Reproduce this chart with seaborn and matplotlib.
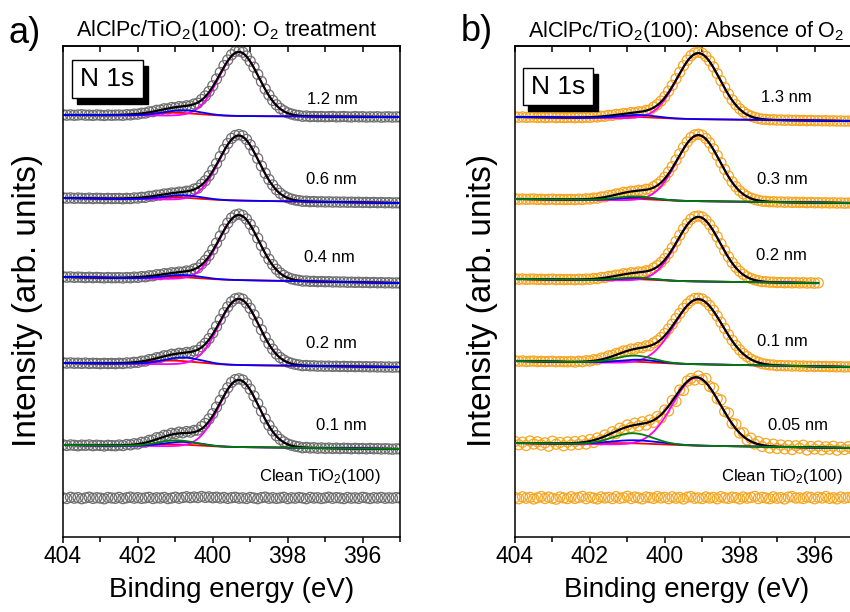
import numpy as np
import matplotlib
matplotlib.use("Agg")
import matplotlib.pyplot as plt
import seaborn as sns
from matplotlib.patches import Rectangle

# ---------------- data (binding energy grid starts at 404.0 eV, step 0.1 eV) ----------------
energy_start = 404.0
energy_step = 0.1

# Panel a) AlClPc/TiO2(100): O2 treatment  (measured N 1s intensities, offset, arb. units)
o2_1p2nm = [42.22, 42.18, 42.21, 42.17, 42.20, 42.23, 42.18, 42.19, 42.16, 42.21, 42.18, 42.15, 42.20, 42.17, 42.19,
            42.20, 42.17, 42.23, 42.21, 42.29, 42.28, 42.38, 42.39, 42.52, 42.53,
            42.67, 42.69, 42.82, 42.80, 42.95, 42.93, 43.04, 43.00, 43.12, 43.11,
            43.30, 43.38, 43.75, 44.10, 44.55, 45.12, 45.80, 46.45, 47.15, 47.70,
            48.22, 48.55, 48.60, 48.48, 48.10, 47.58, 46.98, 46.26, 45.55, 44.80,
            44.20, 43.66, 43.22, 42.86, 42.62, 42.42, 42.30, 42.20, 42.15, 42.07,
            42.10, 42.04,
            42.06, 42.03, 42.05, 42.02, 42.04, 42.06, 42.01, 42.03, 42.05, 42.02, 42.00, 42.04,
            42.01, 42.03, 41.99, 42.02, 42.00, 42.03, 41.98, 42.01, 42.02, 41.99, 42.01, 42.00]
o2_0p6nm = [33.92, 33.88, 33.91, 33.86, 33.90, 33.87, 33.85, 33.89, 33.84, 33.88, 33.86, 33.83, 33.87, 33.84, 33.85,
            33.86, 33.82, 33.87, 33.84, 33.91, 33.89, 33.97, 33.96, 34.07, 34.08,
            34.18, 34.20, 34.30, 34.31, 34.40, 34.39, 34.49, 34.47, 34.58, 34.59,
            34.79, 34.88, 35.27, 35.62, 36.12, 36.70, 37.35, 38.05, 38.75, 39.35,
            39.86, 40.15, 40.24, 40.12, 39.76, 39.22, 38.60, 37.85, 37.10, 36.38,
            35.75, 35.20, 34.74, 34.38, 34.12, 33.93, 33.79, 33.70, 33.64, 33.57,
            33.58, 33.53,
            33.55, 33.51, 33.53, 33.50, 33.52, 33.49, 33.51, 33.48, 33.50, 33.47, 33.49, 33.46,
            33.48, 33.45, 33.47, 33.44, 33.46, 33.43, 33.45, 33.42, 33.44, 33.41, 33.42, 33.40]
o2_0p4nm = [26.02, 25.98, 26.01, 25.96, 25.99, 25.97, 25.94, 25.98, 25.93, 25.96, 25.94, 25.91, 25.95, 25.92, 25.93,
            25.94, 25.90, 25.95, 25.92, 25.99, 25.96, 26.04, 26.02, 26.12, 26.12,
            26.23, 26.23, 26.33, 26.32, 26.43, 26.40, 26.50, 26.48, 26.60, 26.59,
            26.80, 26.90, 27.29, 27.66, 28.15, 28.74, 29.40, 30.09, 30.79, 31.39,
            31.91, 32.19, 32.29, 32.16, 31.80, 31.27, 30.64, 29.89, 29.14, 28.42,
            27.78, 27.24, 26.77, 26.41, 26.16, 25.96, 25.82, 25.73, 25.67, 25.59,
            25.61, 25.56,
            25.57, 25.53, 25.55, 25.52, 25.54, 25.50, 25.52, 25.49, 25.51, 25.47, 25.49, 25.46,
            25.48, 25.45, 25.47, 25.43, 25.45, 25.42, 25.44, 25.41, 25.43, 25.40, 25.41, 25.39]
o2_0p2nm = [17.42, 17.38, 17.41, 17.37, 17.39, 17.36, 17.40, 17.35, 17.38, 17.36, 17.33, 17.37, 17.34, 17.36, 17.33,
            17.38, 17.35, 17.41, 17.39, 17.47, 17.46, 17.58, 17.59, 17.74, 17.77,
            17.93, 17.95, 18.12, 18.13, 18.28, 18.25, 18.38, 18.33, 18.46, 18.42,
            18.60, 18.66, 19.03, 19.37, 19.83, 20.40, 21.06, 21.74, 22.43, 23.01,
            23.52, 23.82, 23.90, 23.78, 23.40, 22.87, 22.22, 21.48, 20.72, 19.98,
            19.33, 18.78, 18.30, 17.95, 17.70, 17.49, 17.37, 17.27, 17.21, 17.13,
            17.15, 17.11,
            17.12, 17.08, 17.10, 17.07, 17.09, 17.06, 17.08, 17.05, 17.07, 17.04, 17.06, 17.03,
            17.05, 17.02, 17.04, 17.01, 17.03, 17.00, 17.02, 16.99, 17.01, 16.98, 17.00, 16.99]
o2_0p1nm = [9.22, 9.15, 9.21, 9.17, 9.12, 9.19, 9.16, 9.21, 9.13, 9.18, 9.15, 9.10, 9.17, 9.14, 9.12,
            9.20, 9.14, 9.25, 9.21, 9.33, 9.30, 9.47, 9.48, 9.67, 9.70,
            9.93, 9.95, 10.17, 10.18, 10.37, 10.33, 10.49, 10.42, 10.55, 10.49,
            10.66, 10.69, 11.04, 11.35, 11.80, 12.33, 12.99, 13.66, 14.35, 14.92,
            15.46, 15.74, 15.82, 15.70, 15.31, 14.78, 14.10, 13.35, 12.58, 11.82,
            11.17, 10.61, 10.13, 9.77, 9.51, 9.30, 9.18, 9.08, 9.02, 8.92,
            8.96, 8.90,
            8.93, 8.87, 8.91, 8.86, 8.90, 8.85, 8.89, 8.84, 8.88, 8.86, 8.82, 8.87,
            8.83, 8.85, 8.81, 8.86, 8.82, 8.84, 8.80, 8.83, 8.81, 8.78, 8.82, 8.80]
o2_clean = [3.92, 3.85, 3.97, 3.88, 3.94, 3.83, 3.91, 3.98, 3.86, 3.93,
            3.89, 3.82, 3.95, 3.90, 3.87, 3.96, 3.84, 3.92, 3.99, 3.88,
            3.94, 3.86, 3.91, 3.97, 3.85, 3.93, 3.89, 3.96, 3.84, 3.90,
            3.98, 3.87, 3.95, 4.02, 3.93, 4.00, 3.94, 4.05, 3.96, 4.01,
            3.92, 3.98, 3.89, 3.95, 3.86, 3.93, 3.97, 3.88, 3.92, 3.85,
            3.96, 3.90, 3.83, 3.94, 3.99, 3.87, 3.93, 3.86, 3.91, 3.97,
            3.84, 3.92, 3.88, 3.95, 3.90, 3.83, 3.96, 3.89, 3.93, 3.85,
            3.91, 3.98, 3.87, 3.94, 3.90, 3.84, 3.95, 3.88, 3.92, 3.86,
            3.97, 3.91, 3.85, 3.93, 3.89, 3.96, 3.87, 3.92, 3.88, 3.94, 3.90]

# Panel b) AlClPc/TiO2(100): absence of O2
no_o2_1p3nm = [42.02, 41.97, 42.01, 41.96, 41.99, 42.00, 41.95, 41.98, 41.94, 41.97, 41.99, 41.93, 41.96, 41.94, 41.95,
               41.96, 41.92, 41.97, 41.93, 41.99, 41.96, 42.03, 42.00, 42.08, 42.07,
               42.17, 42.16, 42.26, 42.25, 42.35, 42.33, 42.44, 42.41, 42.52, 42.51,
               42.66, 42.70, 42.98, 43.24, 43.59, 44.02, 44.57, 45.16, 45.83, 46.47,
               47.13, 47.68, 48.13, 48.41, 48.47, 48.38, 48.05, 47.60, 47.01, 46.35,
               45.63, 44.95, 44.30, 43.71, 43.23, 42.82, 42.51, 42.26, 42.09, 41.96,
               41.86, 41.78,
               41.77, 41.72, 41.73, 41.69, 41.71, 41.67, 41.70, 41.66, 41.68, 41.65, 41.67, 41.63,
               41.66, 41.62, 41.64, 41.61, 41.63, 41.60, 41.62, 41.59, 41.61, 41.58, 41.60, 41.59]
no_o2_0p3nm = [33.82, 33.77, 33.80, 33.76, 33.79, 33.81, 33.75, 33.78, 33.74, 33.77, 33.79, 33.73, 33.76, 33.74, 33.75,
               33.76, 33.73, 33.79, 33.75, 33.82, 33.80, 33.89, 33.88, 34.00, 34.01,
               34.15, 34.17, 34.31, 34.32, 34.47, 34.46, 34.58, 34.56, 34.67, 34.64,
               34.78, 34.78, 35.04, 35.26, 35.57, 35.97, 36.49, 37.04, 37.69, 38.32,
               38.96, 39.50, 39.95, 40.21, 40.27, 40.18, 39.85, 39.40, 38.81, 38.15,
               37.43, 36.75, 36.10, 35.51, 35.03, 34.62, 34.31, 34.06, 33.89, 33.76,
               33.66, 33.58,
               33.57, 33.52, 33.53, 33.49, 33.51, 33.47, 33.50, 33.46, 33.48, 33.45, 33.47, 33.43,
               33.46, 33.42, 33.44, 33.41, 33.43, 33.40, 33.42, 33.39, 33.41, 33.38, 33.40, 33.39]
no_o2_0p2nm = [25.82, 25.77, 25.81, 25.76, 25.79, 25.80, 25.75, 25.78, 25.74, 25.77, 25.79, 25.73, 25.76, 25.74, 25.75,
               25.76, 25.72, 25.78, 25.73, 25.80, 25.77, 25.85, 25.83, 25.95, 25.94,
               26.06, 26.07, 26.19, 26.19, 26.33, 26.31, 26.43, 26.39, 26.51, 26.48,
               26.62, 26.63, 26.90, 27.13, 27.45, 27.85, 28.36, 28.91, 29.55, 30.17,
               30.81, 31.34, 31.78, 32.04, 32.10, 32.00, 31.69, 31.23, 30.68, 30.02,
               29.32, 28.64, 28.02, 27.44, 26.97, 26.57, 26.26, 26.02, 25.85, 25.72,
               25.63, 25.54,
               25.53, 25.48, 25.49, 25.44, 25.46, 25.42, 25.45, 25.41, 25.44, 25.40, 25.43, 25.39,
               25.42, 25.38, 25.41]
no_o2_0p1nm = [17.62, 17.57, 17.61, 17.55, 17.58, 17.60, 17.54, 17.57, 17.53, 17.56, 17.58, 17.52, 17.55, 17.53, 17.52,
               17.55, 17.49, 17.58, 17.53, 17.63, 17.60, 17.73, 17.72, 17.89, 17.92,
               18.11, 18.15, 18.35, 18.41, 18.61, 18.62, 18.80, 18.78, 18.95, 18.93,
               19.11, 19.13, 19.41, 19.63, 19.95, 20.34, 20.79, 21.28, 21.84, 22.35,
               22.87, 23.30, 23.64, 23.85, 23.88, 23.80, 23.53, 23.14, 22.67, 22.10,
               21.47, 20.85, 20.23, 19.67, 19.16, 18.71, 18.33, 18.04, 17.79, 17.61,
               17.47, 17.33,
               17.28, 17.21, 17.20, 17.13, 17.15, 17.11, 17.13, 17.09, 17.12, 17.08, 17.10, 17.06,
               17.09, 17.05, 17.07, 17.04, 17.06, 17.02, 17.05, 17.01, 17.03, 17.00, 17.02, 16.99]
no_o2_0p05nm = [9.55, 9.22, 9.48, 9.15, 9.60, 9.30, 9.52, 9.20, 9.41, 9.08, 9.58, 9.28, 9.45, 9.12, 9.50,
                9.20, 9.55, 9.25, 9.62, 9.30, 9.75, 9.45, 9.90, 9.70, 10.20,
                9.98, 10.52, 10.35, 10.88, 10.70, 11.20, 10.95, 11.38, 11.10, 11.52,
                11.20, 11.70, 11.45, 12.05, 11.90, 12.70, 12.60, 13.65, 13.55, 14.70,
                14.65, 15.60, 15.85, 15.70, 16.10, 15.75, 15.85, 15.05, 14.90, 13.85,
                13.70, 12.55, 12.40, 11.35, 11.28, 10.40, 10.42, 9.70, 9.88, 9.30,
                9.55, 9.05,
                9.35, 8.90, 9.28, 8.85, 9.20, 8.82, 9.15, 8.75, 9.12, 8.88, 9.18, 8.70,
                9.05, 8.80, 9.10, 8.72, 9.02, 8.78, 9.08, 8.68, 8.98, 8.75, 9.03, 8.80]
no_o2_clean = [3.95, 3.82, 4.02, 3.88, 3.97, 3.80, 3.93, 4.05, 3.85, 3.99,
               3.87, 3.78, 4.00, 3.91, 3.84, 4.03, 3.86, 3.95, 4.06, 3.83,
               3.98, 3.89, 3.81, 4.01, 3.90, 3.96, 3.84, 4.04, 3.87, 3.93,
               4.07, 3.85, 3.99, 3.92, 3.81, 4.00, 3.94, 3.86, 4.05, 3.90,
               3.97, 3.83, 4.02, 3.88, 3.95, 3.80, 3.98, 4.04, 3.87, 3.92,
               3.84, 4.01, 3.89, 3.96, 3.82, 4.03, 3.91, 3.86, 3.99, 3.93,
               3.81, 4.00, 3.88, 3.95, 4.06, 3.84, 3.97, 3.90, 3.83, 4.02,
               3.87, 3.94, 3.80, 3.99, 4.04, 3.89, 3.92, 3.85, 4.01, 3.96,
               3.82, 3.98, 3.90, 4.05, 3.86, 3.93, 3.81, 4.00, 3.88, 3.95, 3.91]

# Fit parameters (Gaussian components: centre eV, height, FWHM eV; linear background 404 -> 395 eV)
labels_a = ["1.2 nm", "0.6 nm", "0.4 nm", "0.2 nm", "0.1 nm"]
bg_high_a = [42.2, 33.9, 26.0, 17.4, 9.2]
bg_low_a = [42.0, 33.4, 25.4, 17.0, 8.8]
main_pos_a = [399.3, 399.3, 399.3, 399.3, 399.3]
main_height_a = [6.4, 6.5, 6.5, 6.6, 6.7]
main_fwhm_a = [1.25, 1.25, 1.25, 1.25, 1.25]
blue_pos_a = [400.8, 400.8, 400.8, 400.8, 400.8]
blue_height_a = [0.55, 0.45, 0.41, 0.69, 0.45]
blue_fwhm_a = [1.2, 1.2, 1.2, 1.2, 1.2]
red_pos_a = [401.1, 401.1, 401.1, 401.1, 401.1]
red_height_a = [0.30, 0.24, 0.22, 0.37, 0.20]
red_fwhm_a = [1.6, 1.6, 1.6, 1.6, 1.6]
green_pos_a = [400.95, 400.95, 400.95, 400.95, 400.95]
green_height_a = [0.0, 0.0, 0.0, 0.0, 0.6]
green_fwhm_a = [1.2, 1.2, 1.2, 1.2, 1.2]

labels_b = ["1.3 nm", "0.3 nm", "0.2 nm", "0.1 nm", "0.05 nm"]
bg_high_b = [42.0, 33.8, 25.8, 17.6, 9.4]
bg_low_b = [41.6, 33.4, 25.35, 17.0, 8.9]
main_pos_b = [399.1, 399.1, 399.1, 399.1, 399.15]
main_height_b = [6.6, 6.6, 6.45, 6.5, 6.8]
main_fwhm_b = [1.35, 1.35, 1.35, 1.5, 1.5]
blue_pos_b = [400.7, 400.7, 400.7, 400.7, 400.8]
blue_height_b = [0.35, 0.30, 0.25, 0.35, 0.45]
blue_fwhm_b = [1.2, 1.2, 1.2, 1.2, 1.6]
red_pos_b = [401.0, 401.0, 401.0, 401.0, 401.0]
red_height_b = [0.17, 0.17, 0.16, 0.15, 0.15]
red_fwhm_b = [1.6, 1.6, 1.6, 1.6, 2.0]
green_pos_b = [400.8, 400.8, 400.8, 400.8, 400.85]
green_height_b = [0.0, 0.40, 0.30, 0.75, 1.15]
green_fwhm_b = [1.2, 1.2, 1.2, 1.2, 1.3]

clean_label = "Clean TiO$_2$(100)"
xticks_major = [404, 402, 400, 398, 396]
xticks_minor = [403, 401, 399, 397, 395]

# ---------------- layout / style ----------------
sns.set_theme(style="ticks")
plt.rcParams.update({
    "font.family": ["Liberation Sans", "DejaVu Sans"],
    "mathtext.fontset": "custom",
    "mathtext.rm": "Liberation Sans",
    "mathtext.it": "Liberation Sans:italic",
    "mathtext.bf": "Liberation Sans:bold",
    "axes.edgecolor": "black",
    "axes.linewidth": 1.1,
    "xtick.color": "black",
    "text.color": "black",
})

W, H = 850, 612
fig = plt.figure(figsize=(W / 100, H / 100), dpi=100)

def px_axes(x0, x1, y0, y1):
    return fig.add_axes([x0 / W, 1 - y1 / H, (x1 - x0) / W, (y1 - y0) / H])

ax_a = px_axes(63, 400, 46, 537)
ax_b = px_axes(515, 852, 46, 537)

COL = {"red": "#FF0000", "mag": "#FF00FF", "blue": "#0000FF", "green": "#007F00", "black": "#000000"}

def gauss(x, c, h, w):
    return h * np.exp(-4 * np.log(2) * (x - c) ** 2 / w ** 2)

def energies(n):
    return np.round(energy_start - energy_step * np.arange(n), 2)

def draw_panel(ax, spectra, clean, pars, point_color, labels, label_pos, clean_pos):
    (bgh, bgl, mp, mh, mw, bp, bh, bw, rp, rh, rw, gp, gh, gw) = pars
    for i, y in enumerate(spectra):
        x = energies(len(y))
        sns.scatterplot(x=x, y=np.asarray(y), ax=ax, s=52, marker="o", facecolor="none",
                        edgecolor=point_color, linewidth=0.9, zorder=2, legend=False)
        xf = np.linspace(404.0, x.min(), 500)
        bg = bgl[i] + (bgh[i] - bgl[i]) * (xf - 395.0) / 9.0
        main = gauss(xf, mp[i], mh[i], mw[i])
        blue = gauss(xf, bp[i], bh[i], bw[i])
        red = gauss(xf, rp[i], rh[i], rw[i])
        green = gauss(xf, gp[i], gh[i], gw[i])
        env = bg + main + blue + red + green
        kw = dict(ax=ax, estimator=None, sort=False, legend=False)
        sns.lineplot(x=xf, y=bg + red, color=COL["red"], lw=1.3, zorder=3, **kw)
        sns.lineplot(x=xf, y=bg + main, color=COL["mag"], lw=1.3, zorder=3, **kw)
        sns.lineplot(x=xf, y=env, color=COL["black"], lw=1.6, zorder=4, **kw)
        sns.lineplot(x=xf, y=bg + blue, color=COL["blue"], lw=1.3, zorder=5, **kw)
        if gh[i] > 0:
            sns.lineplot(x=xf, y=bg + green, color=COL["green"], lw=1.3, zorder=6, **kw)
        ax.text(label_pos[i][0], label_pos[i][1], labels[i], ha="center", va="center", fontsize=12)
    xc = energies(len(clean))
    sns.scatterplot(x=xc, y=np.asarray(clean), ax=ax, s=52, marker="o", facecolor="none",
                    edgecolor=point_color, linewidth=0.9, zorder=2, legend=False)
    ax.text(clean_pos[0], clean_pos[1], clean_label, ha="center", va="center", fontsize=12)

    ax.set_xlim(404, 395)
    ax.set_ylim(0, 49.1)
    ax.set_yticks([])
    ax.set_xticks(xticks_major)
    ax.set_xticks(xticks_minor, minor=True)
    ax.set_xticklabels([str(t) for t in xticks_major])
    ax.tick_params(axis="x", which="major", direction="out", length=4, width=1.1, labelsize=16.5, pad=2,
                   top=False, bottom=True)
    ax.tick_params(axis="x", which="minor", direction="out", length=3.5, width=1.1, top=False, bottom=True)
    for s in ax.spines.values():
        s.set_visible(True)
        s.set_color("black")
        s.set_linewidth(1.1)
    sec = ax.secondary_xaxis("top")
    sec.set_xticks(xticks_major)
    sec.set_xticks(xticks_minor, minor=True)
    sec.tick_params(axis="x", which="both", direction="in", length=4, width=1.1, labeltop=False)
    sec.spines["top"].set_linewidth(1.1)
    ax.set_xlabel("")
    ax.set_ylabel("")

def n1s_box(x0, x1, y0, y1):
    # shadow then framed white box (figure pixel coordinates), then the label
    fig.add_artist(Rectangle(((x0 + 5) / W, 1 - (y1 + 6) / H), (x1 - x0) / W, (y1 - y0) / H,
                             transform=fig.transFigure, fc="black", ec="black", lw=1, zorder=5))
    fig.add_artist(Rectangle((x0 / W, 1 - y1 / H), (x1 - x0) / W, (y1 - y0) / H,
                             transform=fig.transFigure, fc="white", ec="black", lw=1, zorder=6))
    fig.text((x0 + x1) / 2 / W, 1 - (y0 + y1) / 2 / H, "N 1s", fontsize=19, ha="center", va="center", zorder=7)

pars_a = (bg_high_a, bg_low_a, main_pos_a, main_height_a, main_fwhm_a, blue_pos_a, blue_height_a, blue_fwhm_a,
          red_pos_a, red_height_a, red_fwhm_a, green_pos_a, green_height_a, green_fwhm_a)
pars_b = (bg_high_b, bg_low_b, main_pos_b, main_height_b, main_fwhm_b, blue_pos_b, blue_height_b, blue_fwhm_b,
          red_pos_b, red_height_b, red_fwhm_b, green_pos_b, green_height_b, green_fwhm_b)

label_pos_a = [(396.8, 43.7), (396.83, 35.7), (396.88, 28.0), (396.83, 19.4), (396.56, 11.1)]
label_pos_b = [(396.75, 44.0), (396.85, 35.7), (396.88, 28.2), (396.85, 19.5), (396.45, 11.2)]

draw_panel(ax_a, [o2_1p2nm, o2_0p6nm, o2_0p4nm, o2_0p2nm, o2_0p1nm], o2_clean, pars_a,
           "#6f6f6f", labels_a, label_pos_a, (397.15, 6.0))
draw_panel(ax_b, [no_o2_1p3nm, no_o2_0p3nm, no_o2_0p2nm, no_o2_0p1nm, no_o2_0p05nm], no_o2_clean, pars_b,
           "#F5A623", labels_b, label_pos_b, (396.88, 6.0))

n1s_box(72, 143, 60, 98)
n1s_box(523, 593, 68, 105)

# titles and axis labels
fig.text(9 / W, 1 - 43 / H, "a)", fontsize=26, ha="left", va="baseline")
fig.text(227 / W, 1 - 36 / H, "AlClPc/TiO$_2$(100): O$_2$ treatment", fontsize=15.5, ha="center", va="baseline")
fig.text(461 / W, 1 - 41 / H, "b)", fontsize=26, ha="left", va="baseline")
fig.text(528 / W, 1 - 37 / H, "AlClPc/TiO$_2$(100): Absence of O$_2$", fontsize=15.5, ha="left", va="baseline")
for xpix in (28, 483):
    fig.text(xpix / W, 1 - 300 / H, "Intensity (arb. units)", rotation=90, fontsize=24, ha="center", va="center")
for xpix in (232, 687):
    fig.text(xpix / W, 1 - 590 / H, "Binding energy (eV)", fontsize=20, ha="center", va="center")

fig.savefig("out.png", dpi=100)
